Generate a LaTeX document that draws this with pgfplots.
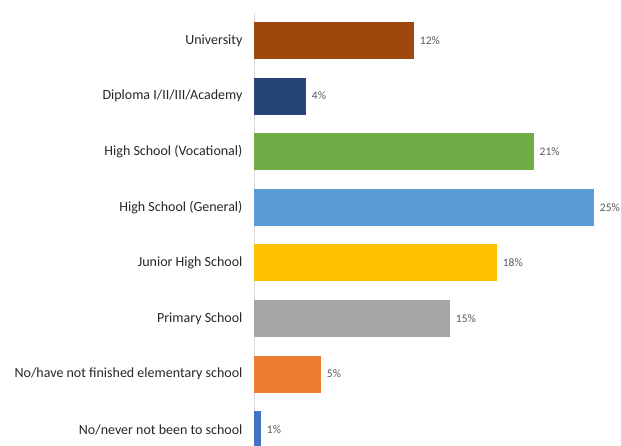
\documentclass[border=0pt]{standalone}
\usepackage{pgfplots}
\pgfplotsset{compat=1.18}
\usepackage{fontspec}
\setmainfont{Carlito}
\definecolor{cUni}{HTML}{9E480E}
\definecolor{cDip}{HTML}{264478}
\definecolor{cVoc}{HTML}{70AD47}
\definecolor{cGen}{HTML}{5B9BD5}
\definecolor{cJun}{HTML}{FFC000}
\definecolor{cPri}{HTML}{A5A5A5}
\definecolor{cNof}{HTML}{ED7D31}
\definecolor{cNev}{HTML}{4472C4}
\definecolor{lineg}{HTML}{D9D9D9}
\definecolor{valc}{HTML}{595959}
\definecolor{labc}{HTML}{262626}
\begin{document}
\begin{tikzpicture}
\begin{axis}[
  scale only axis,
  width=368pt, height=432.3pt,
  xmin=0, xmax=27.5,
  ymin=-0.275, ymax=7.5,
  xbar, bar width=37pt, bar shift=0pt,
  axis x line=none,
  axis y line*=left,
  y axis line style={draw=lineg, line width=0.9pt},
  ytick={0,...,7},
  yticklabels={No/never not been to school, No/have not finished elementary school,
    Primary School, Junior High School, High School (General),
    High School (Vocational), Diploma I/II/III/Academy, University},
  major tick length=0pt,
  yticklabel style={font=\fontsize{14}{16}\selectfont, text=labc, xshift=-8pt},
  point meta=explicit symbolic,
  nodes near coords={\pgfplotspointmeta\%},
  nodes near coords style={anchor=west, font=\fontsize{11.5}{13}\selectfont, text=valc, xshift=2.5pt},
]
\coordinate (o) at (rel axis cs:0,0);
\addplot[draw=none, fill=cNev] coordinates {(0.52,0) [1]};
\addplot[draw=none, fill=cNof] coordinates {(5.0,1) [5]};
\addplot[draw=none, fill=cPri] coordinates {(14.64,2) [15]};
\addplot[draw=none, fill=cJun] coordinates {(18.15,3) [18]};
\addplot[draw=none, fill=cGen] coordinates {(25.4,4) [25]};
\addplot[draw=none, fill=cVoc] coordinates {(20.9,5) [21]};
\addplot[draw=none, fill=cDip] coordinates {(3.88,6) [4]};
\addplot[draw=none, fill=cUni] coordinates {(11.95,7) [12]};
\end{axis}
\pgfresetboundingbox
\path[use as bounding box] ([xshift=-254pt]o) rectangle ([xshift=367pt, yshift=445pt]o);
\end{tikzpicture}
\end{document}
